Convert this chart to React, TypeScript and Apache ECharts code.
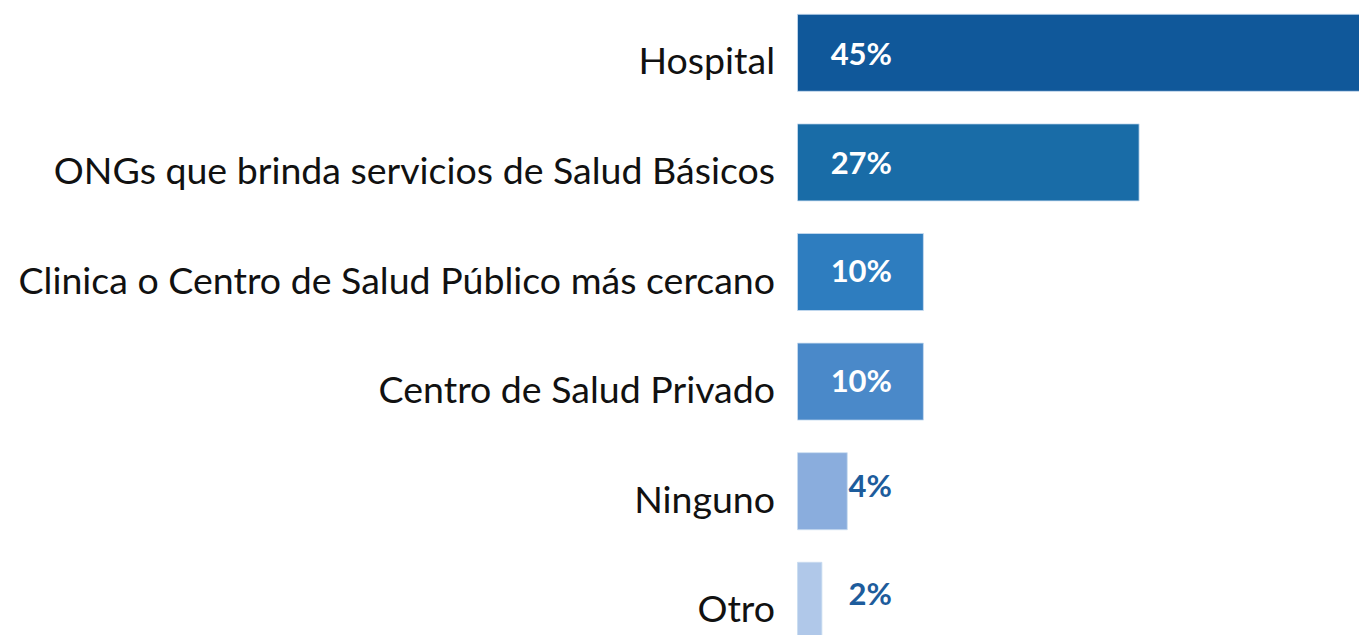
import React, { useEffect, useRef } from "react";
import * as echarts from "echarts";

const categories = [
  "Hospital",
  "ONGs que brinda servicios de Salud Básicos",
  "Clinica o Centro de Salud Público más cercano",
  "Centro de Salud Privado",
  "Ninguno",
  "Otro",
];
const values = [45, 27, 10, 10, 4, 2];
const barColors = ["#10589A", "#196CA7", "#2E7DBF", "#4A89C9", "#8AADDD", "#B0C8E9"];
const labelColors = ["#FFFFFF", "#FFFFFF", "#FFFFFF", "#FFFFFF", "#1D5C9C", "#1D5C9C"];
const labelLift = [0, 0, 2, 2, 6, 8];

export default function App() {
  const ref = useRef<HTMLDivElement>(null);
  useEffect(() => {
    if (!ref.current) return;
    const chart = echarts.init(ref.current, undefined, { renderer: "svg" });
    chart.setOption({
      animation: false,
      grid: { left: 797, top: 0, width: 571, height: 657.6 },
      xAxis: {
        type: "value",
        min: 0,
        max: 45,
        show: false,
      },
      yAxis: {
        type: "category",
        data: categories,
        inverse: true,
        axisLine: { show: false },
        axisTick: { show: false },
        splitLine: { show: false },
        axisLabel: {
          margin: 22,
          color: "#111111",
          fontFamily: "Lato",
          fontSize: 37.5,
          verticalAlign: "top",
          lineHeight: 14,
        },
      },
      series: [
        {
          type: "bar",
          barWidth: 78,
          data: values.map((v, i) => ({
            value: v,
            itemStyle: { color: barColors[i], borderColor: "rgba(200,220,240,0.8)", borderWidth: 1 },
            label: { color: labelColors[i], offset: [0, -labelLift[i]] },
          })),
          label: {
            show: true,
            position: [95, "50%"],
            align: "right",
            verticalAlign: "middle",
            formatter: "{c}%",
            fontFamily: "Lato",
            fontWeight: "bold",
            fontSize: 31,
            padding: [0, 0, 4, 0],
          },
        },
      ],
    });
    return () => chart.dispose();
  }, []);
  return (
    <div style={{ position: "fixed", left: 0, top: 0, width: 1359, height: 635, overflow: "hidden", background: "#fff" }}>
      <div ref={ref} style={{ position: "absolute", left: 0, top: -2, width: 1400, height: 660 }} />
    </div>
  );
}
